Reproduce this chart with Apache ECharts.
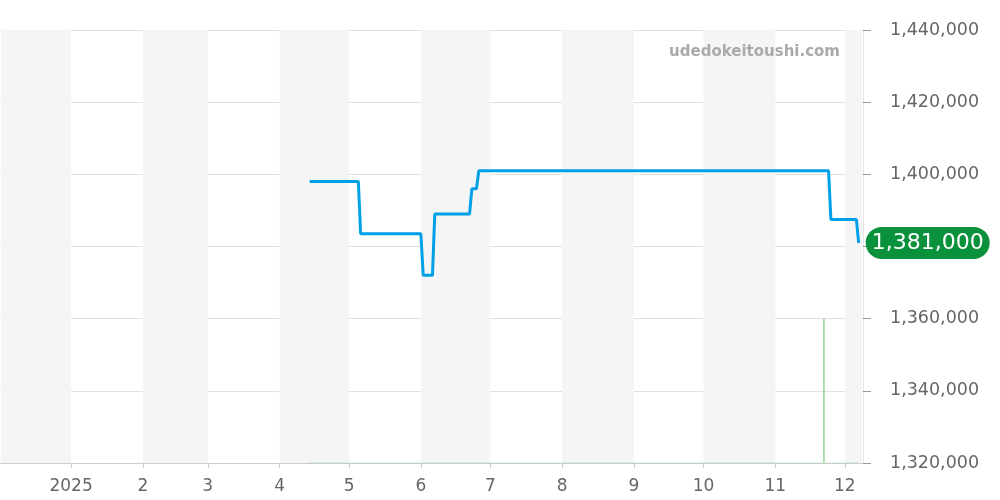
<!DOCTYPE html>
<html>
<head>
<meta charset="utf-8">
<script src="https://cdn.jsdelivr.net/npm/echarts@6/dist/echarts.min.js"></script>
<style>html,body{margin:0;padding:0;background:#fff}#c{width:1000px;height:500px}</style>
</head>
<body>
<div id="c"></div>
<script>
// Price (JPY) at change points
var priceDates = ['2025-04-14','2025-05-05','2025-05-06','2025-06-01','2025-06-02','2025-06-06','2025-06-07','2025-06-22','2025-06-23','2025-06-25','2025-06-26','2025-11-24','2025-11-25','2025-12-06','2025-12-07'];
var priceValues = [1398000,1398000,1383500,1383500,1372000,1372000,1389000,1389000,1396000,1396000,1401000,1401000,1387500,1387500,1381000];
// Volume
var volumeDates = ['2025-04-14','2025-11-22','2025-12-07'];
var volumeValues = [0,1,0];
// Shaded month bands
var bandMonths = ['2024-12','2025-02','2025-04','2025-06','2025-08','2025-10','2025-12'];
// Axis
var yTicks = {min:1320000, max:1440000, interval:20000};
var xRange = ['2024-12-01T15:00:00','2025-12-08T13:00:00'];

function ts(s){ return new Date(s.length===7 ? s+'-01T00:00:00' : (s.length===10 ? s+'T00:00:00' : s)).getTime(); }
var xMin = ts(xRange[0]), xMax = ts(xRange[1]);

var priceData = priceDates.map(function(d,i){ return [ts(d), priceValues[i]]; });
var volBars = volumeDates.map(function(d,i){ return [ts(d), volumeValues[i]]; }).filter(function(p){return p[1]>0;});
var volBase = [[ts(volumeDates[0]),0],[ts(volumeDates[volumeDates.length-1]),0]];

var areas = bandMonths.map(function(m){
  var s = new Date(ts(m)); var e = new Date(s.getFullYear(), s.getMonth()+1, 1).getTime();
  return [{xAxis: Math.max(s.getTime(), xMin)}, {xAxis: Math.min(e, xMax)}];
});

var FONT = 'DejaVu Sans';
var chart = echarts.init(document.getElementById('c'), null, {renderer:'canvas'});
chart.setOption({
  animation:false,
  textStyle:{fontFamily:FONT},
  grid:{left:0, right:137, top:30, bottom:37, containLabel:false},
  graphic:[{type:'text', right:160, top:45, z:10, style:{text:'udedokeitoushi.com', fill:'#aaaaaa', font:'bold 15px "DejaVu Sans"'}}],
  xAxis:{
    type:'time', min:xMin, max:xMax,
    minInterval:28*86400000, maxInterval:31*86400000,
    axisLine:{show:true, lineStyle:{color:'#cccccc'}},
    axisTick:{show:true, length:5, lineStyle:{color:'#cccccc'}},
    splitLine:{show:false},
    axisLabel:{color:'#666666', fontSize:17, fontFamily:FONT, margin:15, hideOverlap:false,
      formatter:function(v){ var d=new Date(v); return d.getMonth()===0 ? String(d.getFullYear()) : String(d.getMonth()+1); }}
  },
  yAxis:[{
    type:'value', position:'right', min:yTicks.min, max:yTicks.max, interval:yTicks.interval,
    axisLine:{show:true, lineStyle:{color:'#e6e6e6'}},
    axisTick:{show:true, length:8, lineStyle:{color:'#999999'}},
    splitLine:{show:true, lineStyle:{color:'#e0e0e0'}},
    axisLabel:{color:'#666666', fontSize:17.5, fontFamily:FONT, margin:27,
      formatter:function(v){ return v.toLocaleString('en-US'); }}
  },{
    type:'value', min:0, max:3, show:false, splitLine:{show:false}
  }],
  series:[{
    name:'bands', type:'line', data:[], silent:true,
    markArea:{silent:true, itemStyle:{color:'#f5f5f5'}, data:areas}
  },{
    name:'volumeBase', type:'line', yAxisIndex:1, data:volBase, symbol:'none', silent:true, z:3,
    lineStyle:{color:'#a8dcb0', width:1, type:[2,1]}
  },{
    name:'volume', type:'bar', yAxisIndex:1, data:volBars, barWidth:1.5, silent:true, z:3,
    itemStyle:{color:'#8fd69a'}
  },{
    name:'price', type:'line', data:priceData, symbol:'none', z:5,
    lineStyle:{color:'#00a0e6', width:3},
    itemStyle:{color:'#00a0e6'},
    endLabel:{show:true, distance:7, color:'#ffffff', fontSize:22, fontFamily:FONT,
      backgroundColor:'#0a913c', borderRadius:16, padding:[6,6,4,6],
      formatter:function(p){ return p.value[1].toLocaleString('en-US'); }}
  }]
});
</script>
</body>
</html>
